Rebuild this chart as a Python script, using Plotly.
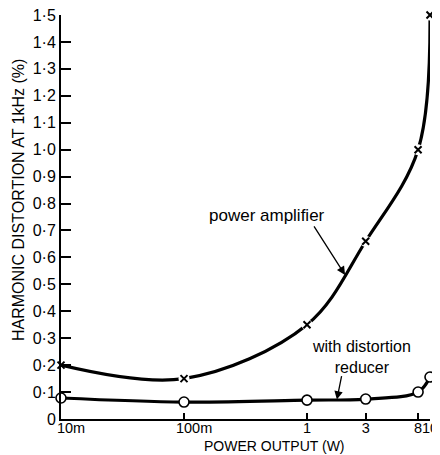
import math
import plotly.graph_objects as go

# Data
power_w = [0.01, 0.1, 1, 3, 8, 10]
amp_distortion = [0.20, 0.15, 0.35, 0.66, 1.00, 1.50]
reducer_distortion = [0.078, 0.063, 0.070, 0.074, 0.100, 0.156]

x_tickvals = [0.01, 0.1, 1, 3, 8, 10]
x_ticktext = ["10m", "100m", "1", "3", "8", "10"]
y_tickvals = [0, 0.1, 0.2, 0.3, 0.4, 0.5, 0.6, 0.7, 0.8, 0.9, 1.0, 1.1, 1.2, 1.3, 1.4, 1.5]
y_ticktext = ["0", "0·1", "0·2", "0·3", "0·4", "0·5", "0·6", "0·7", "0·8", "0·9",
              "1·0", "1·1", "1·2", "1·3", "1·4", "1·5"]

FONT = "Liberation Sans"
NB = "\u00a0"
# the "m" labels sit with their digits over the tick, as in the original lettering
x_ticktext_drawn = [(NB * 5 + t) if t.endswith("m") else t for t in x_ticktext]

# page body has an 8px margin; compensate so the plot area lands at 61..430 x 15..419
OFF = 8
W, H = 440 - OFF, 455 - OFF
L, R, T, B = 61 - OFF, 10, 15 - OFF, 36
PL, PR, PT, PB = 61, 430, 15, 419

def px(xpix):
    return (xpix - PL) / (PR - PL)

def py(ypix):
    return (PB - ypix) / (PB - PT)

fig = go.Figure()

# power amplifier curve
fig.add_trace(go.Scatter(x=power_w, y=amp_distortion, mode="lines",
                         line=dict(color="black", width=3.2, shape="spline", smoothing=1.0),
                         hoverinfo="skip", showlegend=False, cliponaxis=False))
# white gaps around x markers
fig.add_trace(go.Scatter(x=power_w[1:], y=amp_distortion[1:], mode="markers",
                         marker=dict(symbol="circle", size=11, color="white", line=dict(width=0)),
                         hoverinfo="skip", showlegend=False, cliponaxis=False))
fig.add_trace(go.Scatter(x=power_w, y=amp_distortion, mode="markers", name="power amplifier",
                         marker=dict(symbol="x-thin", size=7, color="black",
                                     line=dict(color="black", width=2)),
                         showlegend=False, cliponaxis=False))

# with distortion reducer
fig.add_trace(go.Scatter(x=power_w, y=reducer_distortion, mode="lines+markers",
                         name="with distortion reducer",
                         line=dict(color="black", width=3.2, shape="spline", smoothing=1.0),
                         marker=dict(symbol="circle", size=10, color="white",
                                     line=dict(color="black", width=1.6)),
                         showlegend=False, cliponaxis=False))

# arrows (annotation x on log axes is in log10 units)
fig.add_annotation(x=math.log10(2.04), y=0.535, xref="x", yref="y", ax=-32, ay=-50,
                   text="", showarrow=True, arrowhead=2, arrowsize=1.3, arrowwidth=1.3,
                   arrowcolor="black")
fig.add_annotation(x=math.log10(1.75), y=0.072, xref="x", yref="y", ax=5, ay=-25,
                   text="", showarrow=True, arrowhead=2, arrowsize=1.3, arrowwidth=1.3,
                   arrowcolor="black")

txt = dict(showarrow=False, xanchor="center", yanchor="middle", xref="paper", yref="paper")
fig.add_annotation(x=px(267), y=py(215), text="power amplifier",
                   font=dict(family=FONT, size=17, color="black"), **txt)
fig.add_annotation(x=px(361), y=py(357), text="with distortion<br>reducer",
                   font=dict(family=FONT, size=16, color="black"), **txt)

fig.add_annotation(x=px(274), y=py(446), text="POWER OUTPUT (W)",
                   font=dict(family=FONT, size=14, color="black"), **txt)
fig.add_annotation(x=px(19), y=py(200), textangle=-90,
                   text="HARMONIC DISTORTION AT 1kHz (%)",
                   font=dict(family=FONT, size=16, color="black"), **txt)

fig.update_layout(
    width=W, height=H,
    margin=dict(l=L, r=R, t=T, b=B, autoexpand=False),
    paper_bgcolor="white", plot_bgcolor="white",
    font=dict(family=FONT, size=14, color="black"),
    xaxis=dict(type="log", range=[-2, 1], tickvals=x_tickvals, ticktext=x_ticktext_drawn,
               tickangle=0, automargin=False, ticklabelstandoff=-5,
               ticklabeloverflow="allow",
               showgrid=False, zeroline=False, showline=True, linecolor="black", linewidth=2,
               ticks="inside", ticklen=6, tickwidth=2, tickcolor="black",
               tickfont=dict(family=FONT, size=14.5)),
    yaxis=dict(range=[0, 1.5], tickvals=y_tickvals, ticktext=y_ticktext, automargin=False,
               ticklabeloverflow="allow",
               showgrid=False, zeroline=False, showline=True, linecolor="black", linewidth=2,
               ticks="inside", ticklen=10, tickwidth=2, tickcolor="black",
               tickfont=dict(family=FONT, size=16)),
)

fig.write_html("out.html")
